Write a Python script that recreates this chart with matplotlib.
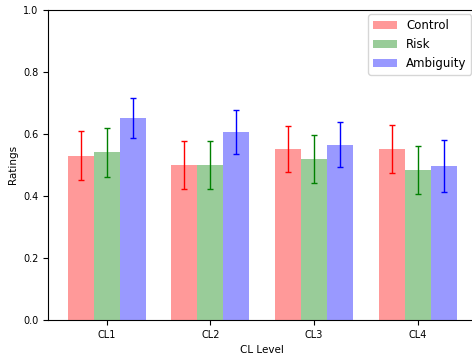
import numpy as np
import matplotlib
matplotlib.use("Agg")
import matplotlib.pyplot as plt

categories = ["CL1", "CL2", "CL3", "CL4"]
series_names = ["Control", "Risk", "Ambiguity"]
control = [0.529, 0.500, 0.550, 0.552]
control_err = [0.079, 0.078, 0.074, 0.077]
risk = [0.540, 0.500, 0.520, 0.483]
risk_err = [0.080, 0.078, 0.077, 0.078]
ambiguity = [0.650, 0.606, 0.565, 0.497]
ambiguity_err = [0.065, 0.071, 0.073, 0.083]

colors = ["red", "green", "blue"]

fig = plt.figure(figsize=(4.72, 3.56), dpi=100)
ax = fig.add_axes([48.3 / 472, 0.1011, 427.7 / 472, 0.8717])

x = np.arange(len(categories))
w = 0.25
for i, (vals, errs, name, c) in enumerate(zip([control, risk, ambiguity],
                                             [control_err, risk_err, ambiguity_err],
                                             series_names, colors)):
    ax.bar(x + (i - 1) * w, vals, w, yerr=errs, color=c, alpha=0.4, label=name,
           error_kw=dict(ecolor=c, capsize=2, elinewidth=1, capthick=1))

ax.set_xticks(x)
ax.set_xticklabels(categories, fontsize=7)
ax.set_ylim(0, 1.0)
ax.tick_params(axis='y', labelsize=7)
ax.set_xlabel("CL Level", fontsize=7.5)
ax.set_ylabel("Ratings", fontsize=7.5)
ax.legend(loc="upper right", fontsize=8.5, borderaxespad=0.4)

fig.savefig("out.png", dpi=100)
